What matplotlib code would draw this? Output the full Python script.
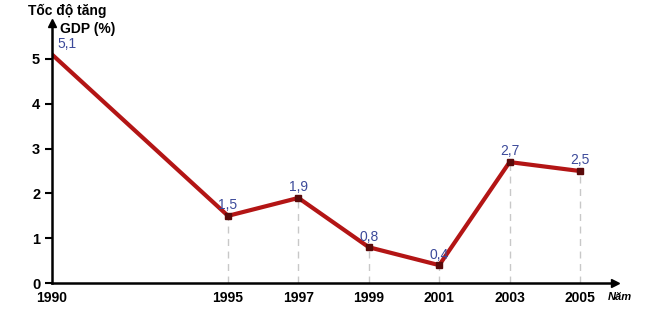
import matplotlib.pyplot as plt

plt.rcParams['font.family'] = ['Liberation Sans', 'DejaVu Sans']

# =========================================================
# 数据
# =========================================================
years = [1990, 1995, 1997, 1999, 2001, 2003, 2005]
gdp = [5.1, 1.5, 1.9, 0.8, 0.4, 2.7, 2.5]
labels = ["5,1", "1,5", "1,9", "0,8", "0,4", "2,7", "2,5"]
yticks = [0, 1, 2, 3, 4, 5]

# =========================================================
# 绘图
# =========================================================
fig = plt.figure(figsize=(6.61, 3.17), dpi=100)
ax = fig.add_axes([0.0787, 0.107, 0.852, 0.82])
ax.set_xlim(1990, 2006)
ax.set_ylim(0, 5.8)

# 虚线
for x, y in zip(years[1:], gdp[1:]):
    ax.plot([x, x], [0, y], color="#c8c8c8", lw=1, ls=(0, (5, 4)), zorder=1)

ax.plot(years, gdp, color="#b31515", lw=3, zorder=2)
ax.plot(years[1:], gdp[1:], ls="none", marker="s", ms=5, color="#5a0a0a", zorder=3)

for x, y, t in zip(years, gdp, labels):
    ax.text(x + 0.15 if x == 1990 else x, y + 0.08, t, color="#3c4a9a",
            fontsize=10, ha="left" if x == 1990 else "center", va="bottom")

for s in ["top", "right"]:
    ax.spines[s].set_visible(False)
ax.spines["left"].set_linewidth(1.8)
ax.spines["bottom"].set_linewidth(1.8)

ax.plot(1, 0, ">k", ms=6, transform=ax.transAxes, clip_on=False)
ax.plot(0, 1, "^k", ms=6, transform=ax.transAxes, clip_on=False)

ax.set_yticks(yticks)
ax.set_yticklabels([str(v) for v in yticks], fontsize=10.5, fontweight="bold")
ax.tick_params(axis="y", length=5, width=1.5)
ax.set_xticks(years)
ax.set_xticklabels([str(v) for v in years], fontsize=10, fontweight="bold")
ax.tick_params(axis="x", length=0, pad=6)

fig.text(0.042, 0.965, "Tốc độ tăng", fontsize=10, fontweight="bold", va="center")
fig.text(0.091, 0.91, "GDP (%)", fontsize=10, fontweight="bold", va="center")
fig.text(0.92, 0.062, "Năm", fontsize=8, fontstyle="italic", fontweight="bold", va="center")

plt.savefig("out.png", dpi=100)
